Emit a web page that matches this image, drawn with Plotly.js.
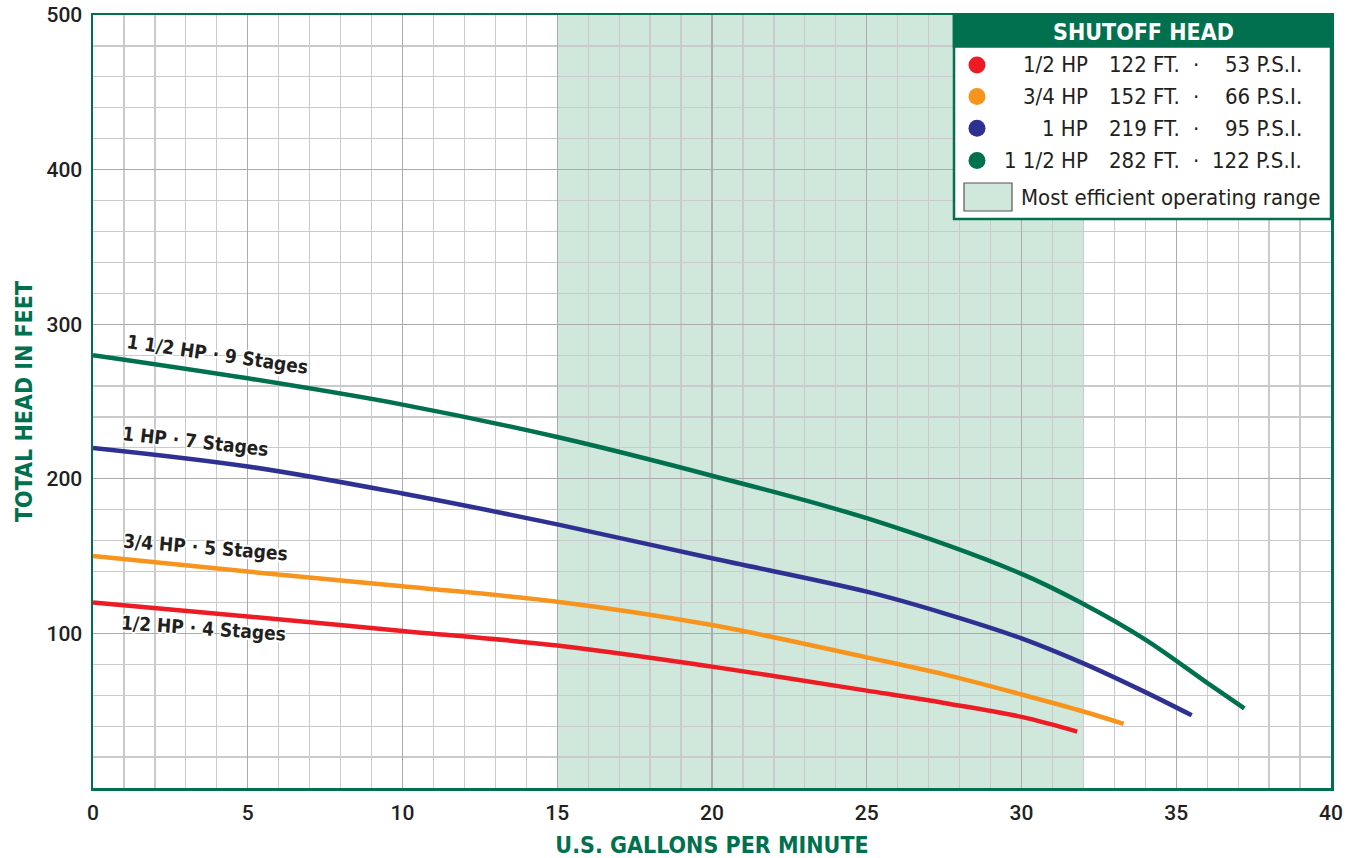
<!DOCTYPE html>
<html>
<head>
<meta charset="utf-8">
<script src="https://cdn.plot.ly/plotly-3.0.1.min.js"></script>
<style>html,body{margin:0;padding:0;background:#fff;}#chart{width:1351px;height:858px;}</style>
</head>
<body>
<div id="chart"></div>
<script>
// ---- data ----
const gpmHalf = [0, 5, 10, 15, 20, 25, 27.5, 30, 31.8];
const headHalf = [120, 111, 101.6, 92.2, 78.5, 63, 55, 46, 36.5];
const gpmThreeQ = [0, 5, 10, 15, 20, 25, 27.5, 30, 32, 33.3];
const headThreeQ = [150, 140, 130.5, 120.5, 105.4, 84.5, 73.5, 60.5, 49.5, 41.5];
const gpmOne = [0, 5, 10, 15, 20, 25, 27.5, 30, 32, 34, 35.5];
const headOne = [220, 208, 190.5, 170.5, 148.6, 127, 113, 96.8, 80.6, 62, 47];
const gpmOneHalf = [0, 5, 10, 15, 20, 25, 30, 32, 34, 36, 37.2];
const headOneHalf = [280, 265, 248, 227, 202, 174.5, 138.5, 119, 96, 68, 51.5];

const curveLabels = ['1/2 HP · 4 Stages', '3/4 HP · 5 Stages', '1 HP · 7 Stages', '1 1/2 HP · 9 Stages'];
const legendHp = ['1/2 HP', '3/4 HP', '1 HP', '1 1/2 HP'];
const legendFt = ['122 FT.', '152 FT.', '219 FT.', '282 FT.'];
const legendPsi = ['53 P.S.I.', '66 P.S.I.', '95 P.S.I.', '122 P.S.I.'];
const efficientRange = [15, 32];
const xTicks = [0, 5, 10, 15, 20, 25, 30, 35, 40];
const yTicks = [100, 200, 300, 400, 500];

// ---- styles ----
const colors = ['#ED1C24', '#F7941D', '#2E3192', '#00704F'];
const green = '#00704F';
const shade = '#CFE8DB';
const condensed = '"Liberation Sans Narrow", "DejaVu Sans Condensed", sans-serif';

const W = 1351, H = 858, mL = 93, mR = 20, mT = 15, mB = 70;
const pw = W - mL - mR, ph = H - mT - mB;
const PX = p => (p - mL) / pw;
const PY = p => (H - mB - p) / ph;

const series = [
  [gpmHalf, headHalf],
  [gpmThreeQ, headThreeQ],
  [gpmOne, headOne],
  [gpmOneHalf, headOneHalf]
];
const traces = series.map((s, i) => ({
  x: s[0], y: s[1], type: 'scatter', mode: 'lines',
  line: {color: colors[i], width: 4.5, shape: 'spline', smoothing: 1},
  name: legendHp[i], showlegend: false, hoverinfo: 'skip'
}));

const shapes = [];
shapes.push({type: 'rect', xref: 'x', yref: 'paper', x0: efficientRange[0], x1: efficientRange[1], y0: 0, y1: 1,
  fillcolor: shade, line: {width: 0}, layer: 'below'});
// legend box
shapes.push({type: 'rect', xref: 'paper', yref: 'paper', x0: PX(954), x1: PX(1331), y0: PY(219), y1: PY(15),
  fillcolor: '#fff', line: {color: green, width: 2.5}, layer: 'above'});
shapes.push({type: 'rect', xref: 'paper', yref: 'paper', x0: PX(954), x1: PX(1331), y0: PY(46.5), y1: PY(15),
  fillcolor: green, line: {color: green, width: 2.5}, layer: 'above'});
const rowY = [65, 96.5, 128.3, 160.5];
rowY.forEach((ry, i) => {
  shapes.push({type: 'circle', xref: 'paper', yref: 'paper', xsizemode: 'pixel', ysizemode: 'pixel',
    xanchor: PX(977), yanchor: PY(ry), x0: -8.5, x1: 8.5, y0: -8.5, y1: 8.5,
    fillcolor: colors[i], line: {width: 0}, layer: 'above'});
});
shapes.push({type: 'rect', xref: 'paper', yref: 'paper', x0: PX(964), x1: PX(1012), y0: PY(211), y1: PY(183),
  fillcolor: shade, line: {color: '#555', width: 1.2}, layer: 'above'});

const annotations = [];
const lf = {family: condensed, size: 22, color: '#231F20'};
annotations.push({xref: 'paper', yref: 'paper', x: PX(1143), y: PY(32), xanchor: 'center', yanchor: 'middle',
  text: 'SHUTOFF HEAD', showarrow: false, font: {family: condensed, size: 23, color: '#fff', weight: 'bold'}});
rowY.forEach((ry, i) => {
  annotations.push({xref: 'paper', yref: 'paper', x: PX(1090), y: PY(ry), xanchor: 'right', yanchor: 'middle',
    text: legendHp[i], showarrow: false, font: lf});
  annotations.push({xref: 'paper', yref: 'paper', x: PX(1107), y: PY(ry), xanchor: 'left', yanchor: 'middle',
    text: legendFt[i], showarrow: false, font: lf});
  annotations.push({xref: 'paper', yref: 'paper', x: PX(1196), y: PY(ry), xanchor: 'center', yanchor: 'middle',
    text: '·', showarrow: false, font: lf});
  annotations.push({xref: 'paper', yref: 'paper', x: PX(1304), y: PY(ry), xanchor: 'right', yanchor: 'middle',
    text: legendPsi[i], showarrow: false, font: lf});
});
annotations.push({xref: 'paper', yref: 'paper', x: PX(1019), y: PY(197), xanchor: 'left', yanchor: 'middle',
  text: 'Most efficient operating range', showarrow: false, font: lf});

// curve labels
const halo = '1px 1px 0 #fff, -1px -1px 0 #fff, 1px -1px 0 #fff, -1px 1px 0 #fff, 0 2px 1px #fff, 0 -2px 1px #fff';
const labelPos = [[203, 628, 4], [205, 547, 4.5], [195, 441, 6.3], [217, 354, 8.2]];
labelPos.forEach((p, i) => {
  annotations.push({xref: 'paper', yref: 'paper', x: PX(p[0]), y: PY(p[1]), xanchor: 'center', yanchor: 'middle',
    text: curveLabels[i], textangle: p[2], showarrow: false,
    font: {family: condensed, size: 19, color: '#231F20', weight: 'bold', shadow: halo}});
});

const tickFont = {family: 'Roboto, "Liberation Sans", sans-serif', size: 21, color: '#231F20', weight: 500};
const layout = {
  width: W, height: H,
  margin: {l: mL, r: mR, t: mT, b: mB, pad: 0},
  paper_bgcolor: '#fff', plot_bgcolor: '#fff',
  showlegend: false, hovermode: false,
  xaxis: {
    range: [0, 40], tickvals: xTicks, ticktext: xTicks.map(String), ticks: '',
    showgrid: true, gridcolor: '#ABABAE', gridwidth: 1.3,
    minor: {dtick: 1, showgrid: true, gridcolor: '#CACACC', gridwidth: 1.2},
    zeroline: false, showline: true, mirror: true, linecolor: green, linewidth: 2.5,
    tickfont: tickFont, ticklabelstandoff: 4, automargin: false,
    title: {text: 'U.S. GALLONS PER MINUTE', standoff: 14,
      font: {family: condensed, size: 23, color: green, weight: 'bold'}}
  },
  yaxis: {
    range: [0, 500], tickvals: yTicks, ticktext: yTicks.map(String), ticks: '',
    showgrid: true, gridcolor: '#ABABAE', gridwidth: 1.3,
    minor: {dtick: 20, showgrid: true, gridcolor: '#CACACC', gridwidth: 1.2},
    zeroline: false, showline: true, mirror: true, linecolor: green, linewidth: 2.5,
    tickfont: tickFont, ticklabelstandoff: 4, automargin: false,
    title: {text: 'TOTAL HEAD IN FEET', standoff: 8,
      font: {family: condensed, size: 23, color: green, weight: 'bold'}}
  },
  shapes: shapes,
  annotations: annotations
};

Plotly.newPlot('chart', traces, layout, {staticPlot: true, displayModeBar: false});
</script>
</body>
</html>
